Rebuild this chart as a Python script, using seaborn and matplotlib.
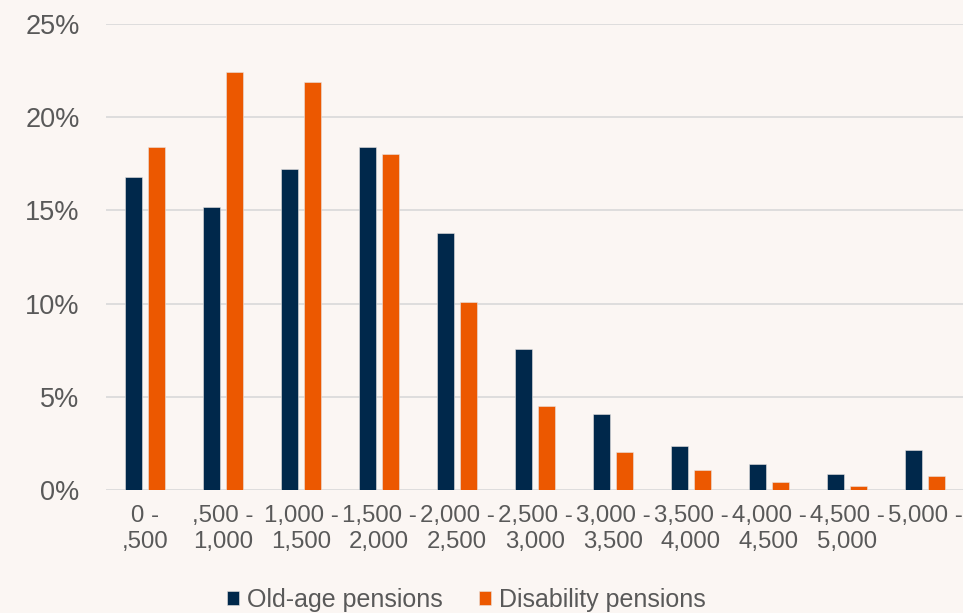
import matplotlib
matplotlib.use("Agg")
import matplotlib.pyplot as plt
import pandas as pd
import seaborn as sns

# Pension amount brackets
brackets = ["0 -\n,500", ",500 -\n1,000", "1,000 -\n1,500", "1,500 -\n2,000",
            "2,000 -\n2,500", "2,500 -\n3,000", "3,000 -\n3,500", "3,500 -\n4,000",
            "4,000 -\n4,500", "4,500 -\n5,000", "5,000 -"]

# Share of pensions per bracket (%)
old_age = [16.8, 15.2, 17.2, 18.4, 13.8, 7.55, 4.1, 2.38, 1.41, 0.88, 2.16]
disability = [18.4, 22.4, 21.9, 18.0, 10.1, 4.52, 2.06, 1.09, 0.45, 0.23, 0.77]

series_names = ["Old-age pensions", "Disability pensions"]
colors = ["#00284b", "#ec5800"]
y_ticks = [0, 5, 10, 15, 20, 25]

df = pd.DataFrame({
    "bracket": brackets * 2,
    "share": old_age + disability,
    "series": [series_names[0]] * len(brackets) + [series_names[1]] * len(brackets),
})

bg = "#fbf6f3"
text_color = "#595959"

sns.set_theme(style="white")
plt.rcParams["font.family"] = ["Liberation Sans", "DejaVu Sans"]

fig = plt.figure(figsize=(9.63, 6.13), dpi=100, facecolor=bg)
ax = fig.add_axes([0.110, 0.2007, 0.891, 0.7601], facecolor=bg)

sns.barplot(data=df, x="bracket", y="share", hue="series", order=brackets,
            hue_order=series_names, palette=colors, width=0.59, gap=0.24,
            saturation=1, ax=ax, legend=True, edgecolor="#e8e4e2", linewidth=0.4)

ax.set_xlim(-0.5, len(brackets) - 0.5)
ax.set_ylim(0, 25)
ax.set_yticks(y_ticks)
ax.set_yticklabels([f"{t}%" for t in y_ticks])
ax.set_axisbelow(True)
ax.yaxis.grid(True, color="#d9d9d9", linewidth=1.2)
ax.xaxis.grid(False)
for s in ax.spines.values():
    s.set_visible(False)

ax.set_xlabel("")
ax.set_ylabel("")
ax.tick_params(axis="x", length=0, pad=11, labelsize=17.3, labelcolor=text_color)
ax.tick_params(axis="y", length=0, pad=19, labelsize=19.5, labelcolor=text_color)

handles, labels = ax.get_legend_handles_labels()
ax.get_legend().remove()
fig.legend(handles, labels, loc="center", bbox_to_anchor=(0.484, 0.022),
           ncol=2, frameon=False, fontsize=18, labelcolor=text_color,
           handlelength=0.5, handleheight=0.5, handletextpad=0.3,
           columnspacing=1.45, borderaxespad=0)

fig.savefig("out.png", dpi=100, facecolor=bg)
